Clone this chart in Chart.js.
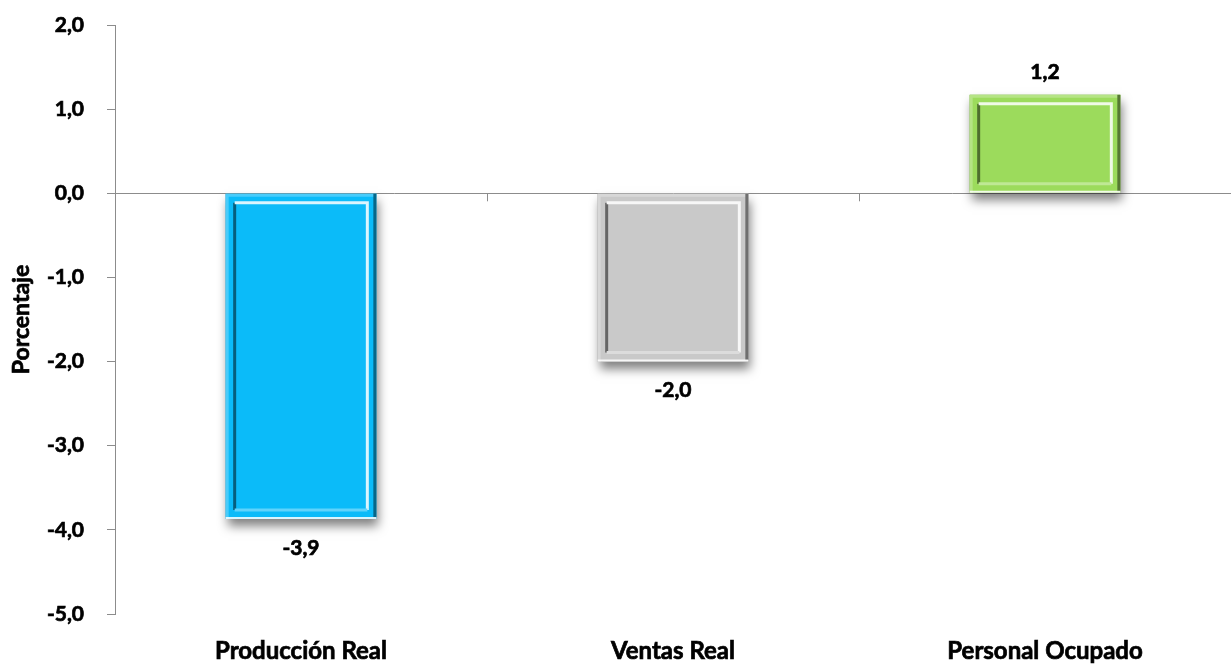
<!DOCTYPE html>
<html><head><meta charset="utf-8">
<script src="https://cdn.jsdelivr.net/npm/chart.js@4/dist/chart.umd.min.js"></script>
<style>html,body{margin:0;padding:0;background:#fff}#wrap{width:1231px;height:665px}</style>
</head><body><div id="wrap"><canvas id="c"></canvas></div>
<script>
const categories = ["Producción Real", "Ventas Real", "Personal Ocupado"];
const values = [-3.87, -2.0, 1.17];
const barColors = ["#0BBBF9", "#C9C9C9", "#9CDB5C"];
const yTicks = [2, 1, 0, -1, -2, -3, -4, -5];
const yTitle = "Porcentaje";
const FONT = "Lato, 'Open Sans', sans-serif";
const fmt = v => v.toFixed(1).replace('.', ',');

function shade(hex, amt) {
  const n = parseInt(hex.slice(1), 16);
  let r = (n >> 16) & 255, g = (n >> 8) & 255, b = n & 255;
  const f = c => Math.max(0, Math.min(255, Math.round(amt < 0 ? c * (1 + amt) : c + (255 - c) * amt)));
  return `rgb(${f(r)},${f(g)},${f(b)})`;
}

const bevelPlugin = {
  id: 'bevel',
  beforeDatasetsDraw(chart) {
    const ctx = chart.ctx;
    const meta = chart.getDatasetMeta(0);
    meta.data.forEach((bar) => {
      const p = bar.getProps(['x', 'y', 'base', 'width'], true);
      const l = p.x - p.width / 2, t = Math.min(p.y, p.base), h = Math.abs(p.y - p.base);
      ctx.save();
      ctx.shadowColor = 'rgba(0,0,0,0.5)';
      ctx.shadowBlur = 10;
      ctx.shadowOffsetX = 2;
      ctx.shadowOffsetY = 7;
      ctx.fillStyle = '#888';
      ctx.fillRect(l, t, p.width, h);
      ctx.restore();
    });
  },
  afterDatasetsDraw(chart) {
    const ctx = chart.ctx;
    const meta = chart.getDatasetMeta(0);
    meta.data.forEach((bar, i) => {
      const p = bar.getProps(['x', 'y', 'base', 'width'], true);
      const c = barColors[i];
      const l = p.x - p.width / 2, r = p.x + p.width / 2;
      const t = Math.min(p.y, p.base), b = Math.max(p.y, p.base);
      ctx.save();
      ctx.lineWidth = 3;
      ctx.strokeStyle = shade(c, 0.25);
      ctx.beginPath(); ctx.moveTo(l + 1.5, b); ctx.lineTo(l + 1.5, t + 1.5); ctx.lineTo(r, t + 1.5); ctx.stroke();
      ctx.strokeStyle = shade(c, -0.45);
      ctx.beginPath(); ctx.moveTo(r - 1.5, t); ctx.lineTo(r - 1.5, b - 1.5); ctx.stroke();
      ctx.strokeStyle = 'rgba(255,255,255,0.85)';
      ctx.lineWidth = 2;
      ctx.beginPath(); ctx.moveTo(l, b - 1); ctx.lineTo(r, b - 1); ctx.stroke();
      const ins = 9;
      const il = l + ins, ir = r - ins, it = t + ins, ib = b - ins;
      ctx.lineWidth = 3;
      ctx.strokeStyle = shade(c, -0.5);
      ctx.beginPath(); ctx.moveTo(il, ib); ctx.lineTo(il, it); ctx.stroke();
      ctx.strokeStyle = shade(c, 0.85);
      ctx.beginPath(); ctx.moveTo(il, it); ctx.lineTo(ir, it); ctx.lineTo(ir, ib); ctx.stroke();
      ctx.strokeStyle = shade(c, 0.35);
      ctx.beginPath(); ctx.moveTo(il, ib); ctx.lineTo(ir, ib); ctx.stroke();
      ctx.restore();
    });
  }
};

const annotPlugin = {
  id: 'annot',
  afterDraw(chart) {
    const ctx = chart.ctx;
    const ys = chart.scales.y, xs = chart.scales.x;
    const y0 = ys.getPixelForValue(0);
    ctx.save();
    ctx.strokeStyle = '#8c8c8c';
    ctx.lineWidth = 1;
    for (let i = 1; i < categories.length; i++) {
      const xb = (xs.getPixelForValue(i - 1) + xs.getPixelForValue(i)) / 2;
      ctx.beginPath(); ctx.moveTo(Math.round(xb) + 0.5, y0); ctx.lineTo(Math.round(xb) + 0.5, y0 + 8); ctx.stroke();
    }
    ctx.fillStyle = '#000';
    ctx.strokeStyle = '#000';
    ctx.lineWidth = 0.7;
    ctx.font = `bold 21px ${FONT}`;
    ctx.textAlign = 'center';
    ctx.textBaseline = 'middle';
    const meta = chart.getDatasetMeta(0);
    meta.data.forEach((bar, i) => {
      const v = values[i];
      const yy = v >= 0 ? bar.y - 23 : bar.y + 29;
      ctx.fillText(fmt(v), bar.x, yy);
      ctx.strokeText(fmt(v), bar.x, yy);
    });
    // y-axis title
    const ca = chart.chartArea;
    ctx.translate(22, (ca.top + ca.bottom) / 2);
    ctx.rotate(-Math.PI / 2);
    ctx.font = `bold 23px ${FONT}`;
    ctx.fillText(yTitle, 0, 0);
    ctx.strokeText(yTitle, 0, 0);
    ctx.restore();
  }
};

new Chart(document.getElementById('c'), {
  type: 'bar',
  data: {
    labels: categories,
    datasets: [{
      data: values,
      backgroundColor: barColors,
      borderWidth: 0,
      categoryPercentage: 1,
      barPercentage: 0.405
    }]
  },
  options: {
    responsive: true,
    maintainAspectRatio: false,
    animation: false,
    devicePixelRatio: 1,
    layout: { padding: { top: 25, right: 0, left: 0, bottom: 0 } },
    plugins: { legend: { display: false }, tooltip: { enabled: false } },
    scales: {
      x: {
        grid: { display: false },
        border: { display: false },
        ticks: { color: '#000', font: { family: FONT, size: 24, weight: 'bold' }, textStrokeColor: '#000', textStrokeWidth: 0.7, padding: 15, maxRotation: 0 },
        afterFit(s) { s.height = 51; s.paddingLeft = 0; s.paddingRight = 0; }
      },
      y: {
        min: -5, max: 2,
        afterBuildTicks(s) { s.ticks = yTicks.map(v => ({ value: v })); },
        grid: {
          color: ctx => (ctx.tick && ctx.tick.value === 0 ? '#8c8c8c' : 'rgba(0,0,0,0)'),
          tickColor: '#8c8c8c',
          tickLength: 8,
          drawOnChartArea: true
        },
        border: { display: true, color: '#8c8c8c' },
        ticks: { color: '#000', font: { family: FONT, size: 21, weight: 'bold' }, textStrokeColor: '#000', textStrokeWidth: 0.7, padding: 23, callback: v => fmt(v) },
        title: { display: false, text: yTitle },
        afterFit(s) { s.width = 115; s.paddingTop = 0; s.paddingBottom = 0; }
      }
    }
  },
  plugins: [bevelPlugin, annotPlugin]
});
</script>
</body></html>
